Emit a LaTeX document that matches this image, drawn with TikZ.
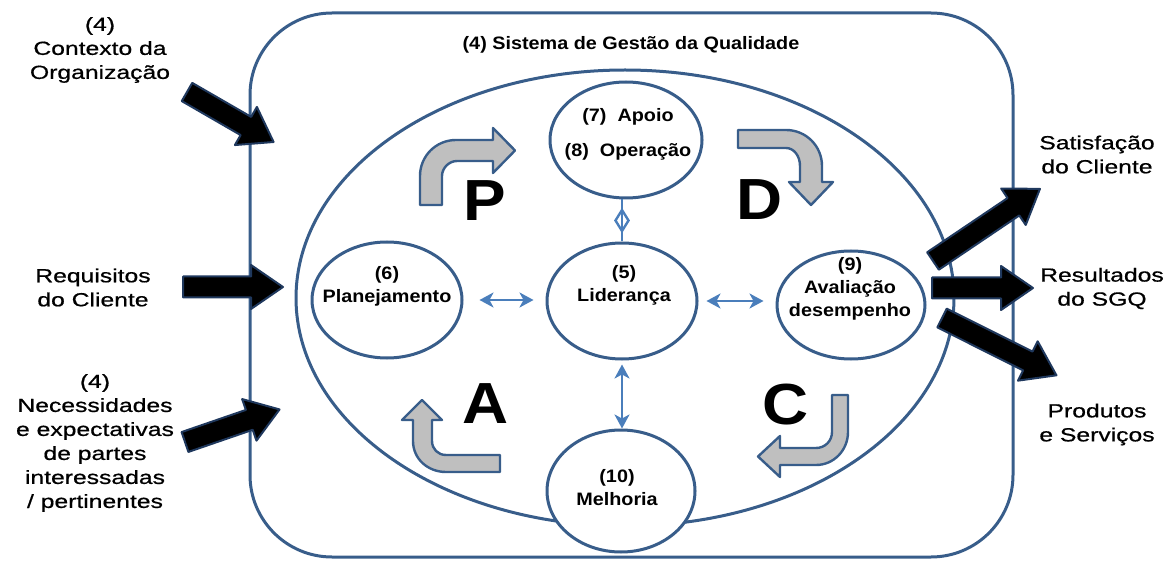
\documentclass[tikz,border=0pt]{standalone}
\usepackage{fontspec}
\setmainfont{Liberation Sans}
\newfontfamily\outerfont[FakeStretch=1.3,FakeBold=0.7]{Liberation Sans}
\newfontfamily\innerfont[FakeStretch=1.1]{Liberation Sans}
\usetikzlibrary{shapes.geometric,arrows.meta}
\definecolor{frameblue}{RGB}{56,93,138}
\definecolor{connblue}{RGB}{74,126,187}
\definecolor{arrowedge}{RGB}{31,56,93}
\definecolor{pdcagray}{RGB}{191,191,191}
\newcommand{\qblockarrow}[4]{%
  \begin{scope}[shift={(#1,#2)},rotate=#3]
    \draw[blockarr] (0,-10.5) -- ({#4-32},-10.5) -- ({#4-32},-22) -- (#4,0) -- ({#4-32},22) -- ({#4-32},10.5) -- (0,10.5) -- cycle;
  \end{scope}}
\begin{document}
\begin{tikzpicture}[x=0.5pt,y=-0.5pt,
  outline/.style={draw=frameblue,line width=1.5pt},
  circ/.style={ellipse,outline,fill=white,inner sep=0pt},
  outertext/.style={font=\outerfont\fontsize{9.5pt}{12pt}\selectfont,align=center,inner sep=0pt},
  innertext/.style={font=\innerfont\bfseries\fontsize{9pt}{11.5pt}\selectfont,align=center,inner sep=0pt},
  pdca/.style={font=\innerfont\bfseries\fontsize{29pt}{30pt}\selectfont,inner sep=0pt},
  blockarr/.style={draw=arrowedge,fill=black,line width=1pt,line join=round},
  bentarr/.style={draw=frameblue,fill=pdcagray,line width=1.2pt,line join=round},
  conn/.style={draw=connblue,line width=1.4pt,{Stealth[length=7pt,width=7.5pt,inset=2pt]}-{Stealth[length=7pt,width=7.5pt,inset=2pt]}}
]
\useasboundingbox (0,0) rectangle (1173,561);

% frame and system ellipse
\node[outline,rectangle,rounded corners=41pt,minimum width=381.5pt,minimum height=272pt,inner sep=0pt] (frame) at (631.5,285) {};
\node[ellipse,outline,inner sep=0pt,minimum width=329pt,minimum height=228pt] (sgq) at (625,298) {};

% block arrows in and out
\qblockarrow{187}{92}{-30}{100}
\qblockarrow{183}{287}{0}{100}
\qblockarrow{185}{442}{19}{100}
\qblockarrow{933}{261}{34}{129}
\qblockarrow{932}{288}{0}{101}
\qblockarrow{942}{318}{-26.6}{128}

% PDCA bent arrows
\draw[bentarr] (420,205) -- (420,176) .. controls (420,156) and (436,140) .. (456,140) -- (493,140) -- (493,128) -- (515,150.5) -- (493,173) -- (493,161) -- (457,161) .. controls (449,161) and (442,168) .. (442,176) -- (442,205) -- cycle;
\draw[bentarr] (738,130) -- (786,130) .. controls (806,130) and (822,146) .. (822,166) -- (822,182) -- (833,182) -- (811,205) -- (789,182) -- (800,182) -- (800,166) .. controls (800,156) and (794,148) .. (786,148) -- (738,148) -- cycle;
\draw[bentarr] (500,455) -- (446,455) .. controls (438,455) and (432,449) .. (432,441) -- (432,420) -- (442,420) -- (422,400) -- (402,420) -- (413,420) -- (413,441) .. controls (413,459) and (428,472) .. (446,472) -- (500,472) -- cycle;
\draw[bentarr] (832,395) -- (848,395) -- (848,432) .. controls (848,450) and (834,465) .. (816,465) -- (780,465) -- (780,477) -- (758,456.5) -- (780,436) -- (780,448) -- (816,448) .. controls (825,448) and (832,441) .. (832,432) -- cycle;

% process ellipses
\node[circ,minimum width=76pt,minimum height=58pt] (apoio) at (626,140) {};
\node[circ,minimum width=75pt,minimum height=58pt] (lider) at (622,301) {};
\node[circ,minimum width=75pt,minimum height=58pt] (plan) at (387,300) {};
\node[circ,minimum width=74pt,minimum height=54pt] (aval) at (851,305) {};
\node[circ,minimum width=74pt,minimum height=61pt] (melh) at (621,491) {};

% connectors
\draw[conn,shorten <=8pt,shorten >=6pt] (plan.east) -- (plan.east -| lider.west);
\draw[conn,shorten <=4pt,shorten >=6pt] (lider.east) -- (lider.east -| aval.west);
\draw[conn,shorten <=2pt,shorten >=0pt] (lider.south) -- (lider.south |- melh.north);
\draw[draw=connblue,line width=1.4pt] (lider.north |- apoio.south) -- node[diamond,draw=connblue,line width=1.2pt,minimum width=7pt,minimum height=11pt,inner sep=0pt] (dm) {} (lider.north);

% texts
\node[innertext] (title) at (631,45) {(4) Sistema de Gestão da Qualidade};
\node[innertext] (tapoio) at (628,134.5) {(7)\ \ Apoio\\[6pt](8)\ \ Operação};
\node[innertext] (tplan) at (387,286.5) {(6)\\Planejamento};
\node[innertext] (tlider) at (624,285.5) {(5)\\Liderança};
\node[innertext] (taval) at (850,288.5) {(9)\\Avaliação\\desempenho};
\node[innertext] (tmelh) at (617,487.5) {(10)\\Melhoria};

\node[pdca] (P) at (485,201) {P};
\node[pdca] (D) at (760,200) {D};
\node[pdca] (A) at (486,404) {A};
\node[pdca] (C) at (786,405) {C};

\node[outertext] (ctx) at (100,50) {(4)\\Contexto da\\Organização};
\node[outertext] (req) at (93,287.5) {Requisitos\\do Cliente};
\node[outertext] (nec) at (95,443) {(4)\\Necessidades\\e expectativas\\de partes\\interessadas\\/ pertinentes};
\node[outertext] (sat) at (1097,154.5) {Satisfação\\do Cliente};
\node[outertext] (res) at (1102,288.5) {Resultados\\do SGQ};
\node[outertext] (prod) at (1097,424.5) {Produtos\\e Serviços};
\end{tikzpicture}
\end{document}
